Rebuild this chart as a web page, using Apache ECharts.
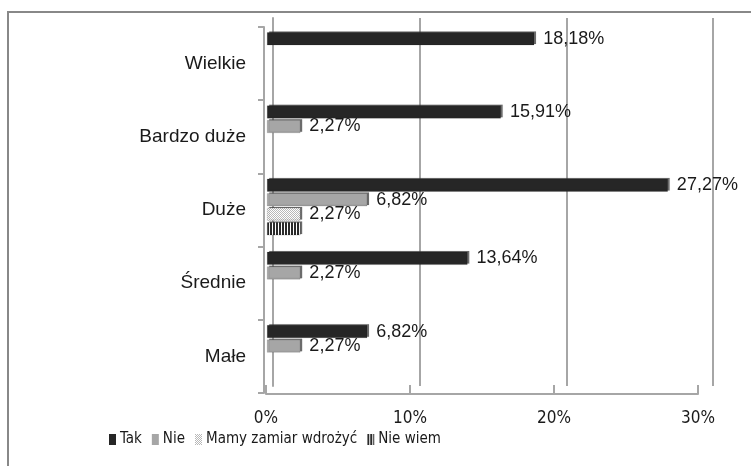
<!DOCTYPE html>
<html>
<head>
<meta charset="utf-8">
<script src="https://cdn.jsdelivr.net/npm/echarts@6/dist/echarts.min.js"></script>
<style>
  html, body { margin: 0; padding: 0; background: #fff; }
  #chart { width: 751px; height: 466px; }
</style>
</head>
<body>
<div id="chart"></div>
<script>
// Company size categories, listed top to bottom
const categories = ['Wielkie', 'Bardzo duże', 'Duże', 'Średnie', 'Małe'];
// Share of answers per category (percent); null = no bar
const takValues = [18.18, 15.91, 27.27, 13.64, 6.82];
const nieValues = [null, 2.27, 6.82, 2.27, 2.27];
const zamiarValues = [null, null, 2.27, null, null];
const nieWiemValues = [null, null, 2.27, null, null];
const seriesNames = ['Tak', 'Nie', 'Mamy zamiar wdrożyć', 'Nie wiem'];
const axisTicks = [0, 10, 20, 30];

const NARROW = '"DejaVu Sans Condensed", "Liberation Sans", sans-serif';
const REGULAR = '"Liberation Sans", Arial, sans-serif';

// Fill patterns for the two patterned series
function makePattern(draw, w, h) {
  const c = document.createElement('canvas');
  c.width = w; c.height = h;
  const ctx = c.getContext('2d');
  draw(ctx);
  return { image: c, repeat: 'repeat' };
}
const dottedFill = makePattern(function (ctx) {
  ctx.fillStyle = '#ffffff'; ctx.fillRect(0, 0, 4, 4);
  ctx.fillStyle = '#b8b8b8';
  ctx.fillRect(0, 0, 1, 1); ctx.fillRect(2, 0, 1, 1);
  ctx.fillRect(1, 1, 1, 1); ctx.fillRect(3, 1, 1, 1);
  ctx.fillRect(0, 2, 1, 1); ctx.fillRect(2, 2, 1, 1);
  ctx.fillRect(1, 3, 1, 1); ctx.fillRect(3, 3, 1, 1);
}, 4, 4);
const stripeFill = makePattern(function (ctx) {
  ctx.fillStyle = '#ffffff'; ctx.fillRect(0, 0, 3, 3);
  ctx.fillStyle = '#2a2a2a'; ctx.fillRect(0, 0, 2, 3);
}, 3, 3);

function pct(v) {
  return v.toFixed(2).replace('.', ',') + '%';
}

const chart = echarts.init(document.getElementById('chart'), null, { renderer: 'canvas' });

function barSeries(name, data, color, showLabel) {
  return {
    name: name,
    type: 'bar',
    xAxisIndex: 0,
    yAxisIndex: 0,
    data: data,
    barWidth: 13,
    barGap: '12%',
    itemStyle: {
      color: color,
      borderColor: 'rgba(0,0,0,0.25)',
      borderWidth: 0.5,
      shadowColor: 'rgba(60,60,60,0.75)',
      shadowOffsetX: 2,
      shadowOffsetY: -1,
      shadowBlur: 0
    },
    label: {
      show: showLabel,
      position: 'right',
      distance: 9,
      color: '#1a1a1a',
      fontFamily: REGULAR,
      fontSize: 18,
      formatter: function (p) { return pct(p.value); }
    },
    emphasis: { disabled: true }
  };
}

const option = {
  backgroundColor: '#ffffff',
  animation: false,
  graphic: [{
    type: 'rect',
    shape: { x: 8, y: 12, width: 800, height: 520 },
    style: { fill: 'none', stroke: '#888888', lineWidth: 2 },
    silent: true,
    z: -10
  }],
  legend: {
    left: 104,
    top: 427,
    itemWidth: 7,
    itemHeight: 11,
    itemGap: 10,
    icon: 'rect',
    data: seriesNames,
    itemStyle: { borderWidth: 0, shadowBlur: 0, shadowOffsetX: 0, shadowOffsetY: 0 },
    textStyle: { fontFamily: NARROW, fontSize: 15, color: '#1a1a1a', padding: [0, 0, 0, -1] }
  },
  grid: [
    // bars
    { left: 267, right: 43, top: 24, bottom: 76 },
    // back wall with gridlines
    { left: 273, right: 38, top: 18, bottom: 80 },
    // floor edge with tick labels
    { left: 266, right: 53, top: 100, bottom: 72 },
    // front wall edge with category ticks
    { left: 264, right: 53, top: 27, bottom: 73 }
  ],
  xAxis: [
    { gridIndex: 0, type: 'value', min: 0, max: 30, interval: 10, show: false },
    {
      gridIndex: 1, type: 'value', min: 0, max: 30, interval: 10,
      axisLine: { show: false }, axisTick: { show: false }, axisLabel: { show: false },
      splitLine: { show: true, lineStyle: { color: '#a6a6a6', width: 2 } }
    },
    {
      gridIndex: 2, type: 'value', min: 0, max: 30, interval: 10,
      axisLine: { show: true, lineStyle: { color: '#a6a6a6', width: 2 } },
      axisTick: { show: true, inside: true, length: 9, lineStyle: { color: '#a6a6a6', width: 2 } },
      splitLine: { show: false },
      axisLabel: {
        margin: 16,
        fontFamily: NARROW, fontSize: 17, color: '#1a1a1a',
        formatter: function (v) { return v + '%'; }
      },
      data: axisTicks
    },
    { gridIndex: 3, type: 'value', show: false }
  ],
  yAxis: [
    {
      gridIndex: 0, type: 'category', data: categories, inverse: true,
      axisLine: { show: false }, axisTick: { show: false }, axisLabel: { show: false },
      splitLine: { show: false }
    },
    {
      gridIndex: 1, type: 'value', min: 0, max: 1,
      axisLine: { show: true, onZero: false, lineStyle: { color: '#a6a6a6', width: 2 } },
      axisTick: { show: false }, axisLabel: { show: false }, splitLine: { show: false }
    },
    { gridIndex: 2, type: 'value', show: false },
    {
      gridIndex: 3, type: 'category', data: categories, inverse: true,
      axisLine: { show: true, onZero: false, lineStyle: { color: '#a6a6a6', width: 2 } },
      axisTick: { show: true, length: 6, lineStyle: { color: '#a6a6a6', width: 2 } },
      axisLabel: {
        margin: 18,
        fontFamily: REGULAR, fontSize: 19, color: '#1a1a1a'
      },
      splitLine: { show: false }
    }
  ],
  series: [
    barSeries(seriesNames[0], takValues, '#262626', true),
    barSeries(seriesNames[1], nieValues, '#a6a6a6', true),
    barSeries(seriesNames[2], zamiarValues, dottedFill, true),
    barSeries(seriesNames[3], nieWiemValues, stripeFill, false)
  ]
};

chart.setOption(option);
</script>
</body>
</html>
